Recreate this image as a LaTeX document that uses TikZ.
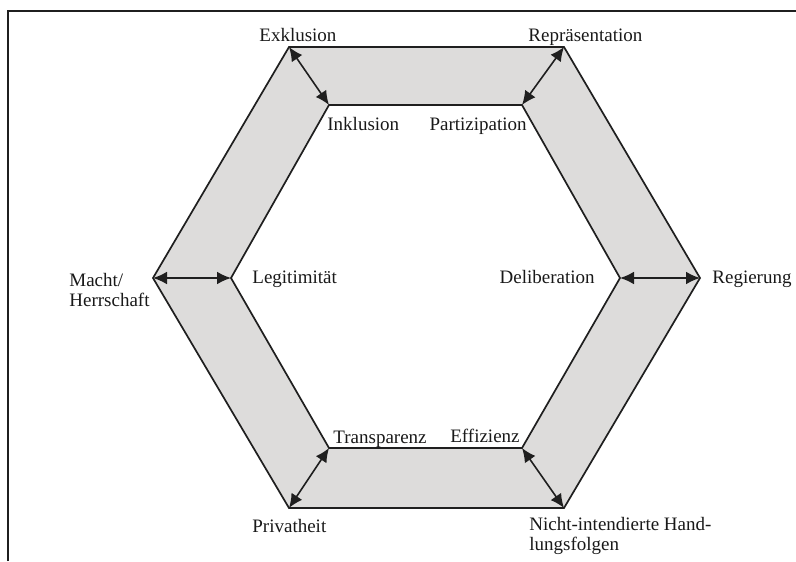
\documentclass[tikz,border=0pt]{standalone}
\usepackage{fontspec}
\setmainfont{Liberation Serif}
\usetikzlibrary{arrows.meta}
\definecolor{ringgray}{HTML}{DDDCDB}
\tikzset{
  lbl/.style={inner sep=0pt, font=\fontsize{9.5}{10}\selectfont, text=black!90},
  link/.style={line width=0.8pt, draw=black!88, {Latex[length=7pt,width=6.4pt]}-{Latex[length=7pt,width=6.4pt]}},
  hexline/.style={line width=0.85pt, draw=black!88}
}
\begin{document}
\begin{tikzpicture}[x=0.5pt,y=-0.5pt]
\useasboundingbox (0,0) rectangle (796,561);
% frame
\draw[line width=1.1pt, black!88] (8,561) -- (8,11) -- (796,11);
% outer vertices
\coordinate (oTL) at (289,47);
\coordinate (oTR) at (564,47);
\coordinate (oR)  at (700,278);
\coordinate (oBR) at (564,508);
\coordinate (oBL) at (289,508);
\coordinate (oL)  at (153,278);
% inner vertices
\coordinate (iTL) at (329,105);
\coordinate (iTR) at (522,105);
\coordinate (iR)  at (620,278);
\coordinate (iBR) at (522,448);
\coordinate (iBL) at (329,448);
\coordinate (iL)  at (231,278);
% ring
\fill[ringgray, even odd rule] (oTL) -- (oTR) -- (oR) -- (oBR) -- (oBL) -- (oL) -- cycle
  (iTL) -- (iTR) -- (iR) -- (iBR) -- (iBL) -- (iL) -- cycle;
\draw[hexline] (oTL) -- (oTR) -- (oR) -- (oBR) -- (oBL) -- (oL) -- cycle;
\draw[hexline] (iTL) -- (iTR) -- (iR) -- (iBR) -- (iBL) -- (iL) -- cycle;
% arrows
\draw[link] (oTL) -- (iTL);
\draw[link] (oTR) -- (iTR);
\draw[link] (oR) -- (iR);
\draw[link] (oBR) -- (iBR);
\draw[link] (oBL) -- (iBL);
\draw[link] (oL) -- (iL);
% labels
\node[lbl, anchor=base west] (exk) at (259,42) {Exklusion};
\node[lbl, anchor=base west] (rep) at (528,42) {Repräsentation};
\node[lbl, anchor=base west] (ink) at (327,131) {Inklusion};
\node[lbl, anchor=base east] (par) at (527,131) {Partizipation};
\node[lbl, anchor=base west] (leg) at (252,283) {Legitimität};
\node[lbl, anchor=base east] (del) at (595,283) {Deliberation};
\node[lbl, anchor=base west] (reg) at (712,283) {Regierung};
\node[lbl, anchor=base west, align=left] (mac) at (69,306) {Macht/\\Herrschaft};
\node[lbl, anchor=base west] (tra) at (333,443) {Transparenz};
\node[lbl, anchor=base east] (eff) at (520,442) {Effizienz};
\node[lbl, anchor=base west] (pri) at (252,532) {Privatheit};
\node[lbl, anchor=base west, align=left] (nic) at (529,550) {Nicht-intendierte Hand-\\lungsfolgen};
\end{tikzpicture}
\end{document}
